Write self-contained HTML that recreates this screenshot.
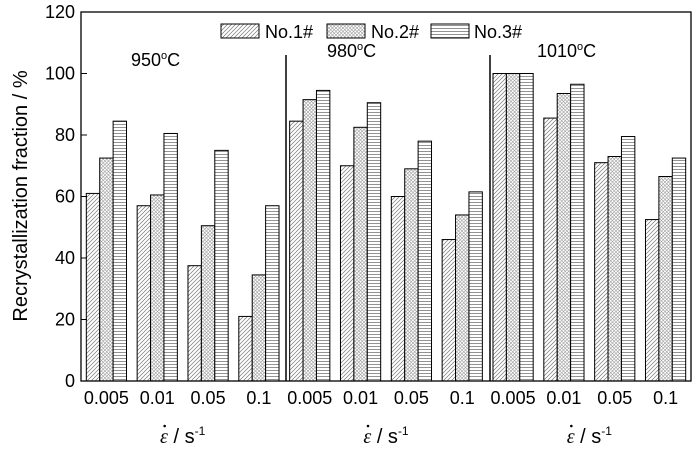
<!DOCTYPE html>
<html><head><meta charset="utf-8"><style>
body{margin:0;background:#fff}
svg text{font-family:"Liberation Sans",Arial,sans-serif;fill:#000}
</style></head><body>
<svg width="700" height="449" viewBox="0 0 700 449">
<defs>
<pattern id="p1" patternUnits="userSpaceOnUse" width="4" height="4"><rect width="4" height="4" fill="#fff"/><path d="M-1,5 L5,-1 M-1,1 L1,-1 M3,5 L5,3" stroke="#777" stroke-width="0.7"/></pattern>
<pattern id="p2" patternUnits="userSpaceOnUse" width="3.5" height="3.5"><rect width="3.5" height="3.5" fill="#fff"/><path d="M0,0 L3.5,3.5 M3.5,0 L0,3.5" stroke="#999" stroke-width="0.6"/></pattern>
<pattern id="p3" patternUnits="userSpaceOnUse" width="4" height="3"><rect width="4" height="3" fill="#fff"/><path d="M0,1.5 H4" stroke="#777" stroke-width="0.8"/></pattern>
</defs>
<g id="bars"></g>
<rect x="81" y="12" width="610" height="369" fill="none" stroke="#000" stroke-width="1.3"/>
<line x1="286" y1="55" x2="286" y2="381" stroke="#000" stroke-width="1.5"/>
<line x1="490" y1="55" x2="490" y2="381" stroke="#000" stroke-width="1.5"/>
<g id="yaxis"></g>
<g id="xaxis"></g>
<text x="131" y="66" font-size="18">950<tspan dy="-7" font-size="11">o</tspan><tspan dy="7">C</tspan></text>
<text x="327" y="57" font-size="18">980<tspan dy="-7" font-size="11">o</tspan><tspan dy="7">C</tspan></text>
<text x="537" y="57" font-size="18">1010<tspan dy="-7" font-size="11">o</tspan><tspan dy="7">C</tspan></text>
<g>
<rect x="221" y="24" width="38" height="14" fill="url(#p1)" stroke="#000"/>
<text x="265" y="38" font-size="18">No.1#</text>
<rect x="327" y="24" width="38" height="14" fill="url(#p2)" stroke="#000"/>
<text x="371" y="38" font-size="18">No.2#</text>
<rect x="431" y="24" width="38" height="14" fill="url(#p3)" stroke="#000"/>
<text x="474" y="38" font-size="18">No.3#</text>
</g>
<text transform="translate(27,196) rotate(-90)" text-anchor="middle" font-size="20">Recrystallization fraction / %</text>
</svg>
<script>
const categories=["0.005","0.01","0.05","0.1","0.005","0.01","0.05","0.1","0.005","0.01","0.05","0.1"];
const no1=[61,57,37.5,21,84.5,70,60,46,100,85.5,71,52.5];
const no2=[72.5,60.5,50.5,34.5,91.5,82.5,69,54,100,93.5,73,66.5];
const no3=[84.5,80.5,75,57,94.5,90.5,78,61.5,100,96.5,79.5,72.5];
const yTicks=[0,20,40,60,80,100,120];
const ns="http://www.w3.org/2000/svg";
const X0=81,W=610,Y0=381,Yt=12;
const gw=W/categories.length;
const y=v=>Y0-(v/120)*(Y0-Yt);
const bw=13.4;
const bars=document.getElementById('bars');
const series=[no1,no2,no3],fills=["url(#p1)","url(#p2)","url(#p3)"];
categories.forEach((c,i)=>{
  const gx=X0+i*gw+gw/2-bw*1.5;
  series.forEach((s,k)=>{
    const r=document.createElementNS(ns,'rect');
    r.setAttribute('x',gx+k*bw);r.setAttribute('y',y(s[i]));
    r.setAttribute('width',bw);r.setAttribute('height',Y0-y(s[i]));
    r.setAttribute('fill',fills[k]);r.setAttribute('stroke','#000');r.setAttribute('stroke-width','1');
    
    
    bars.appendChild(r);
  });
  const t=document.createElementNS(ns,'text');
  t.setAttribute('x',X0+i*gw+gw/2);t.setAttribute('y',404);
  t.setAttribute('text-anchor','middle');t.setAttribute('font-size','18');
  t.textContent=c;
  
  
  document.getElementById('xaxis').appendChild(t);
});
[0,1,2].forEach(g=>{
  const cx=X0+(g*4+2)*gw;
  const t=document.createElementNS(ns,'text');
  t.setAttribute('x',cx);t.setAttribute('y',443);
  t.setAttribute('text-anchor','middle');t.setAttribute('font-size','20');
  t.innerHTML='<tspan font-family="Liberation Serif" font-style="italic">ε</tspan> / s<tspan dy="-8" font-size="12">-1</tspan>';
  
  
  document.getElementById('xaxis').appendChild(t);
  const d=document.createElementNS(ns,'circle');
  d.setAttribute('cx',cx-18);d.setAttribute('cy',426);d.setAttribute('r',1.3);
  
  
  document.getElementById('xaxis').appendChild(d);
});
yTicks.forEach(v=>{
  const l=document.createElementNS(ns,'line');
  l.setAttribute('x1',X0);l.setAttribute('x2',X0+6);l.setAttribute('y1',y(v));l.setAttribute('y2',y(v));
  l.setAttribute('stroke','#000');
  
  
  document.getElementById('yaxis').appendChild(l);
  const t=document.createElementNS(ns,'text');
  t.setAttribute('x',X0-6);t.setAttribute('y',y(v)+6);
  t.setAttribute('text-anchor','end');t.setAttribute('font-size','18');
  t.textContent=v;
  
  
  document.getElementById('yaxis').appendChild(t);
});
</script>
</body></html>
